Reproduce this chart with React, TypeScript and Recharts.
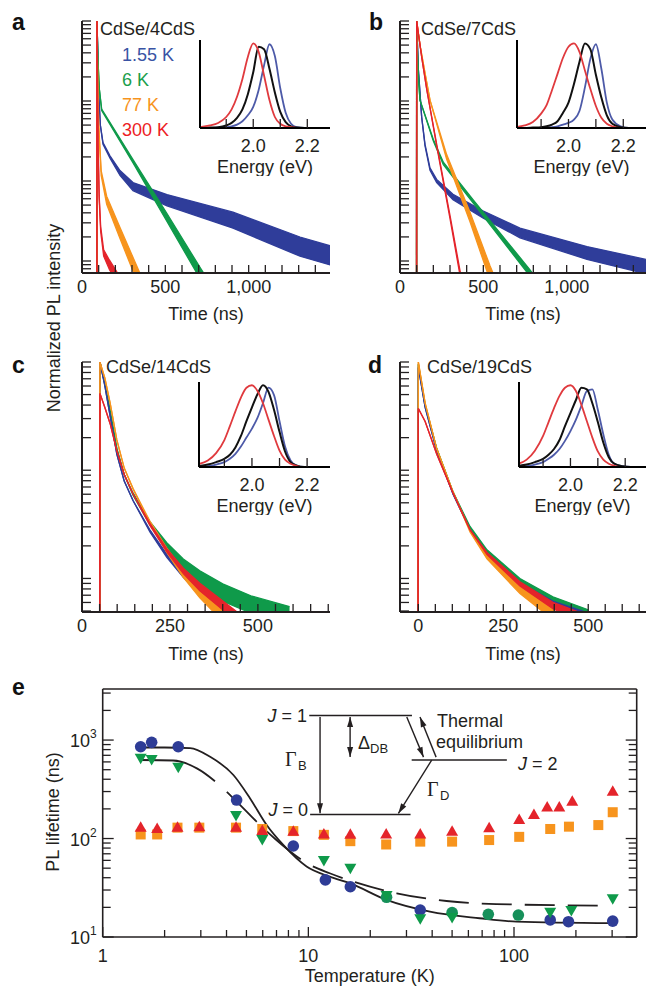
import React from 'react'
import { ComposedChart, Line, Area, Scatter, XAxis, YAxis, ReferenceLine } from 'recharts'

const FONT = '"Liberation Sans", Arial, Helvetica, sans-serif'
const SERIF = '"Liberation Serif", "DejaVu Serif", serif'
const INK = '#231f20'
const BLUE = '#2f3d9a'
const GREEN = '#0f9a4a'
const ORANGE = '#f7941d'
const RED = '#e4242b'

// decay traces: [time (ns), log10 normalized intensity, noise half-width (decades)]
const aBlue = [[89, -5, 0], [90, 0, 0], [100, -0.9, 0], [110, -1.3, 0], [126, -1.53, 0.01], [168, -1.7, 0.015], [228, -1.9, 0.03], [306, -2.07, 0.05], [510, -2.24, 0.07], [906, -2.49, 0.1], [1308, -2.82, 0.12], [1490, -2.93, 0.12]]
const aGreen = [[89, -5, 0], [90, 0, 0], [96, -0.5, 0], [104, -0.85, 0], [118, -1.11, 0.01], [308, -1.76, 0.02], [508, -2.45, 0.05], [708, -3.15, 0.07], [760, -3.33, 0.08]]
const aOrange = [[89, -5, 0], [90, 0, 0], [94, -0.7, 0], [100, -1.3, 0.01], [115, -1.9, 0.03], [148, -2.24, 0.05], [228, -2.65, 0.07], [328, -3.15, 0.09], [370, -3.35, 0.09]]
const aRed = [[89, -5, 0], [90, 0, 0], [93, -0.9, 0], [97, -1.6, 0.01], [103, -2.2, 0.02], [112, -2.6, 0.03], [130, -2.9, 0.04], [165, -3.05, 0.06], [210, -3.2, 0.06]]

const bBlue = [[99, -5, 0], [100, 0, 0], [110, -0.6, 0], [130, -1.2, 0], [150, -1.55, 0.01], [180, -1.85, 0.015], [220, -2.0, 0.02], [318, -2.2, 0.035], [500, -2.42, 0.045], [720, -2.65, 0.06], [1122, -2.9, 0.08], [1476, -3.07, 0.09]]
const bGreen = [[99, -5, 0], [100, 0, 0], [105, -0.4, 0], [112, -0.75, 0], [120, -0.99, 0], [200, -1.49, 0.01], [260, -1.78, 0.015], [437, -2.25, 0.02], [780, -3.15, 0.04], [830, -3.3, 0.04]]
const bOrange = [[99, -5, 0], [100, 0, 0], [120, -0.3, 0], [150, -0.65, 0], [180, -0.99, 0], [280, -1.7, 0.03], [420, -2.45, 0.06], [540, -3.15, 0.09], [580, -3.35, 0.09]]
const bRed = [[99, -5, 0], [100, 0, 0], [130, -0.45, 0], [160, -0.85, 0], [220, -1.55, 0.01], [300, -2.45, 0.02], [360, -3.15, 0.03], [380, -3.35, 0.03]]

const cGreen = [[50, -5, 0], [51, 0, 0], [65, -0.2, 0], [80, -0.45, 0], [99, -0.8, 0], [120, -1.04, 0], [145, -1.22, 0.01], [193, -1.49, 0.015], [241, -1.7, 0.03], [288, -1.87, 0.05], [335, -2.0, 0.07], [400, -2.13, 0.08], [480, -2.24, 0.08], [590, -2.34, 0.08]]
const cBlue = [[50, -5, 0], [51, 0, 0], [65, -0.22, 0], [80, -0.5, 0], [99, -0.85, 0], [120, -1.1, 0], [145, -1.28, 0], [193, -1.56, 0.01], [241, -1.79, 0.015], [288, -1.97, 0.02], [335, -2.12, 0.03], [424, -2.36, 0.04]]
const cOrange = [[50, -5, 0], [51, 0, 0], [65, -0.15, 0], [80, -0.38, 0], [99, -0.72, 0], [120, -0.98, 0], [145, -1.17, 0], [193, -1.48, 0.01], [241, -1.74, 0.02], [288, -1.96, 0.03], [335, -2.13, 0.05], [392, -2.31, 0.06], [420, -2.4, 0.06]]
const cRed = [[50, -5, 0], [51, -0.29, 0], [65, -0.42, 0], [80, -0.57, 0], [99, -0.82, 0], [120, -1.04, 0], [145, -1.22, 0], [193, -1.5, 0.01], [241, -1.74, 0.015], [288, -1.93, 0.025], [335, -2.08, 0.035], [443, -2.36, 0.045]]

const dGreen = [[-2, -5, 0], [0, -0.02, 0], [20, -0.4, 0], [54, -0.8, 0], [102, -1.2, 0], [152, -1.53, 0.01], [202, -1.75, 0.015], [299, -2.03, 0.03], [396, -2.21, 0.04], [500, -2.34, 0.05]]
const dBlue = [[-2, -5, 0], [0, -0.05, 0], [20, -0.42, 0], [54, -0.82, 0], [102, -1.22, 0], [152, -1.55, 0], [202, -1.78, 0.01], [299, -2.06, 0.02], [396, -2.24, 0.03], [510, -2.36, 0.03]]
const dOrange = [[-2, -5, 0], [0, 0, 0], [20, -0.38, 0], [54, -0.8, 0], [102, -1.2, 0], [152, -1.56, 0.01], [202, -1.8, 0.02], [299, -2.1, 0.04], [400, -2.33, 0.06]]
const dRed = [[-2, -5, 0], [0, -0.43, 0], [20, -0.55, 0], [54, -0.85, 0], [102, -1.21, 0], [152, -1.55, 0], [202, -1.77, 0.01], [299, -2.05, 0.02], [396, -2.25, 0.03], [480, -2.36, 0.04]]

const ticksAB = [0, 100, 200, 300, 400, 500, 600, 700, 800, 900, 1000, 1100, 1200, 1300, 1400]
const ticksC = [0, 50, 100, 150, 200, 250, 300, 350, 400, 450, 500, 550, 600, 650, 700]
const ticksD = [0, 50, 100, 150, 200, 250, 300, 350, 400, 450, 500, 550, 600, 650]
const labelsAB: Record<string, string> = { '0': '0', '500': '500', '1000': '1,000' }
const labelsCD: Record<string, string> = { '0': '0', '250': '250', '500': '500' }

// PL spectra (insets), normalized
const energy = [1.8, 1.84, 1.87, 1.9, 1.92, 1.94, 1.96, 1.98, 2.0, 2.02, 2.04, 2.06, 2.08, 2.1, 2.12, 2.14, 2.16, 2.19, 2.22, 2.29]
const specARed = [0.01, 0.03, 0.06, 0.13, 0.22, 0.37, 0.58, 0.84, 1.0, 0.9, 0.62, 0.33, 0.13, 0.05, 0.02, 0.01, 0, 0, 0, 0]
const specABlack = [0, 0.005, 0.01, 0.03, 0.06, 0.12, 0.22, 0.4, 0.66, 0.96, 0.93, 0.7, 0.42, 0.19, 0.07, 0.02, 0.005, 0, 0, 0]
const specABlue = [0, 0, 0.005, 0.01, 0.02, 0.04, 0.08, 0.15, 0.25, 0.45, 0.74, 0.99, 0.85, 0.47, 0.18, 0.05, 0.01, 0, 0, 0]
const specBRed = [0.01, 0.03, 0.07, 0.17, 0.27, 0.45, 0.64, 0.83, 0.96, 1.0, 0.9, 0.68, 0.46, 0.26, 0.12, 0.05, 0.02, 0, 0, 0]
const specBBlack = [0, 0, 0.005, 0.01, 0.02, 0.04, 0.08, 0.18, 0.3, 0.52, 0.78, 1.0, 0.93, 0.63, 0.36, 0.15, 0.05, 0.01, 0, 0]
const specBBlue = [0, 0, 0, 0, 0.005, 0.01, 0.02, 0.04, 0.06, 0.1, 0.2, 0.48, 0.82, 0.99, 0.7, 0.3, 0.1, 0.02, 0, 0]
const specCRed = [0.03, 0.08, 0.17, 0.33, 0.5, 0.68, 0.85, 0.97, 1.0, 0.93, 0.78, 0.58, 0.38, 0.2, 0.09, 0.04, 0.015, 0, 0, 0]
const specCBlack = [0.01, 0.03, 0.06, 0.1, 0.15, 0.24, 0.38, 0.56, 0.73, 0.89, 1.0, 0.92, 0.7, 0.43, 0.19, 0.06, 0.02, 0, 0, 0]
const specCBlue = [0, 0.01, 0.03, 0.06, 0.1, 0.16, 0.25, 0.36, 0.47, 0.6, 0.78, 0.97, 0.88, 0.56, 0.25, 0.08, 0.02, 0, 0, 0]
const specDRed = [0.03, 0.09, 0.2, 0.38, 0.55, 0.72, 0.87, 0.97, 1.0, 0.93, 0.76, 0.56, 0.36, 0.19, 0.09, 0.04, 0.015, 0, 0, 0]
const specDBlack = [0.01, 0.03, 0.06, 0.1, 0.15, 0.22, 0.33, 0.5, 0.66, 0.82, 0.97, 0.95, 0.78, 0.55, 0.3, 0.12, 0.04, 0.01, 0, 0]
const specDBlue = [0, 0.01, 0.03, 0.06, 0.1, 0.15, 0.22, 0.32, 0.44, 0.58, 0.75, 0.93, 0.95, 0.7, 0.4, 0.15, 0.04, 0.01, 0, 0]

// panel e: [temperature (K), PL lifetime (ns)]
const blueCircles = [[1.53, 855], [1.73, 948], [2.33, 855], [4.48, 246], [8.45, 84], [12.1, 38], [16, 32.4], [35, 18.8], [150, 14.9], [184, 14.3], [302, 14.5]]
const greenCircles = [[24, 25.3], [50, 17.7], [75, 17], [105, 16.7]]
const greenTriangles = [[1.53, 661], [1.73, 641], [2.33, 535], [4.45, 173], [5.97, 99], [11.9, 60.5], [16, 50.6], [24, 26.7], [35, 15.5], [50, 16], [150, 18.1], [190, 18.8], [302, 24.7]]
const redTriangles = [[1.53, 129], [1.84, 125], [2.31, 129], [2.95, 130], [4.45, 129], [5.97, 119], [8.45, 117], [11.9, 110], [16, 109], [23.9, 110], [35, 110], [50, 117], [75.7, 127], [106, 154], [125, 173], [145, 206], [166, 206], [192, 237], [302, 299]]
const orangeSquares = [[1.53, 110], [1.84, 110], [2.31, 129], [2.95, 129], [4.45, 129], [5.97, 125], [8.45, 119], [11.9, 109], [16, 94], [23.9, 87], [35, 93], [50, 93], [75.7, 96.5], [106, 104], [150, 125], [185, 132], [257, 137], [302, 185]]
const solidFit = [[1.55, 840], [2.0, 840], [2.66, 830], [3.33, 676], [4.32, 442], [5.2, 257], [6.27, 137], [7.55, 86], [9.8, 52], [12.7, 41], [16, 35], [24, 23.8], [39, 18.1], [68, 15.5], [103, 14.3], [302, 13.8]]
const dashedFit = [[1.53, 627], [2.2, 620], [2.87, 516], [3.65, 357], [4.32, 256], [6.05, 127], [6.9, 99], [10.2, 53.8], [12.7, 44.4], [16.6, 36.4], [26.9, 27.8], [47, 23.2], [82, 21.6], [292, 20.8]]
const eXTicks = [1, 2, 3, 4, 5, 6, 7, 8, 9, 10, 20, 30, 40, 50, 60, 70, 80, 90, 100, 200, 300]
const eYTicks = [10, 20, 30, 40, 50, 60, 70, 80, 90, 100, 200, 300, 400, 500, 600, 700, 800, 900, 1000, 2000, 3000]
const eXLabels: Record<string, string> = { '1': '1', '10': '10', '100': '100' }
const eYExp: Record<string, string> = { '10': '1', '100': '2', '1000': '3' }

// level scheme drawn in data coordinates of panel e
const levelLines = [
  [{ x: 10.1, y: 1775 }, { x: 31.9, y: 1775 }],
  [{ x: 10.2, y: 175 }, { x: 31.4, y: 175 }],
  [{ x: 31.8, y: 627 }, { x: 92.3, y: 627 }],
]
const arrows = [
  { seg: [{ x: 11.4, y: 1714 }, { x: 11.4, y: 181 }], both: false },
  { seg: [{ x: 15.96, y: 1714 }, { x: 15.96, y: 671 }], both: true },
  { seg: [{ x: 30.1, y: 1714 }, { x: 36.3, y: 671 }], both: false },
  { seg: [{ x: 41.8, y: 671 }, { x: 34.9, y: 1714 }], both: false },
  { seg: [{ x: 39.8, y: 627 }, { x: 27.4, y: 180 }], both: false },
]

const band = (tr: number[][]) => tr.map(([t, c, w]) => ({ t, band: [c - w, c + w] }))
const pts = (arr: number[][]) => arr.map(([T, tau]) => ({ T, tau }))
const spec = (r: number[], k: number[], b: number[]) => energy.map((E, i) => ({ E, r: r[i], k: k[i], b: b[i] }))

function decadeTicks(lo: number, hi: number) {
  const out: number[] = []
  for (let k = Math.floor(lo); k <= Math.ceil(hi); k++) {
    for (let m = 1; m <= 9; m++) {
      const v = k + Math.log10(m)
      if (v >= lo - 1e-9 && v <= hi + 1e-9) out.push(+v.toFixed(4))
    }
  }
  return out
}

function tickMark(dir: string, len: number, labels?: Record<string, string>, labelDy = 20, majors?: number[]) {
  return (p: any) => {
    const { x, y, payload } = p
    const v = payload.value
    const L = majors && majors.includes(v) ? len + 3 : len
    const dx = dir === 'left' ? -L : dir === 'right' ? L : 0
    const dy = dir === 'up' ? -L : dir === 'down' ? L : 0
    const lab = labels ? labels[String(v)] : undefined
    return (
      <g>
        <line x1={x} y1={y} x2={x + dx} y2={y + dy} stroke={INK} strokeWidth={1.3} />
        {lab !== undefined && (
          <text x={x} y={y + labelDy} textAnchor="middle" fontSize={18} fill={INK}>
            {lab}
          </text>
        )}
      </g>
    )
  }
}

function eLeftTick(p: any) {
  const { x, y, payload } = p
  const exp = eYExp[String(payload.value)]
  return (
    <g>
      <line x1={x} y1={y} x2={x + (exp ? 11 : 8)} y2={y} stroke={INK} strokeWidth={1.3} />
      {exp && (
        <text x={x - 6} y={y + 7} textAnchor="end" fontSize={18} fill={INK}>
          10<tspan dy={-9} fontSize={12}>{exp}</tspan>
        </text>
      )}
    </g>
  )
}

function arrowShape(both: boolean) {
  return (p: any) => {
    const { x1, y1, x2, y2 } = p
    const a = Math.atan2(y2 - y1, x2 - x1)
    const head = (x: number, y: number, ang: number) => {
      const bx = x - 10 * Math.cos(ang)
      const by = y - 10 * Math.sin(ang)
      const s = Math.sin(ang) * 3
      const c = Math.cos(ang) * 3
      return `${x},${y} ${bx - s},${by + c} ${bx + s},${by - c}`
    }
    return (
      <g>
        <line x1={x1} y1={y1} x2={x2} y2={y2} stroke={INK} strokeWidth={1.4} />
        <polygon points={head(x2, y2, a)} fill={INK} />
        {both && <polygon points={head(x1, y1, a + Math.PI)} fill={INK} />}
      </g>
    )
  }
}

const axisLine = { stroke: INK, strokeWidth: 2 }

function DecayPanel(props: any) {
  const { left, top, width, yw, mr, mt, xh, xDomain, xTicks, labels, yDomain, series } = props
  return (
    <div style={{ position: 'absolute', left, top }}>
      <ComposedChart width={width} height={330} margin={{ top: mt, right: mr, bottom: 0, left: 0 }}>
        <XAxis
          dataKey="t"
          type="number"
          domain={xDomain}
          allowDataOverflow
          ticks={xTicks}
          interval={0}
          height={xh}
          tickSize={0}
          tickMargin={0}
          tickLine={false}
          axisLine={axisLine}
          tick={tickMark('up', 8, labels, 20)}
          label={{ value: 'Time (ns)', position: 'insideBottom', offset: 10, fill: INK, fontSize: 18 }}
        />
        <YAxis
          type="number"
          domain={yDomain}
          allowDataOverflow
          ticks={decadeTicks(yDomain[0], yDomain[1])}
          interval={0}
          width={yw}
          tickSize={0}
          tickMargin={0}
          tickLine={false}
          axisLine={axisLine}
          tick={tickMark('right', 9)}
        />
        {series.map((s: any, i: number) => (
          <Area
            key={i}
            data={band(s.data)}
            dataKey="band"
            type="linear"
            stroke={s.color}
            strokeWidth={1.3}
            fill={s.color}
            fillOpacity={1}
            dot={false}
            activeDot={false}
            isAnimationActive={false}
          />
        ))}
      </ComposedChart>
    </div>
  )
}

function Inset(props: any) {
  const { left, top, width, plotH, mr, domain, data } = props
  return (
    <div style={{ position: 'absolute', left, top }}>
      <ComposedChart width={width} height={10 + plotH + 48} data={data} margin={{ top: 10, right: mr, bottom: 0, left: 19 }}>
        <XAxis
          dataKey="E"
          type="number"
          domain={domain}
          allowDataOverflow
          ticks={[1.9, 2.0, 2.1, 2.2]}
          interval={0}
          height={48}
          tickSize={0}
          tickMargin={0}
          tickLine={false}
          axisLine={{ stroke: '#000', strokeWidth: 2 }}
          tick={tickMark('up', 9, { '2': '2.0', '2.2': '2.2' }, 24)}
          label={{ value: 'Energy (eV)', position: 'insideBottom', offset: 3, fill: INK, fontSize: 18 }}
        />
        <YAxis type="number" domain={[0, 1.04]} allowDataOverflow width={1} tick={false} tickLine={false} axisLine={{ stroke: '#000', strokeWidth: 2 }} />
        <Line dataKey="b" type="monotone" stroke="#4d5aa8" strokeWidth={1.8} dot={false} activeDot={false} isAnimationActive={false} />
        <Line dataKey="k" type="monotone" stroke="#111111" strokeWidth={2} dot={false} activeDot={false} isAnimationActive={false} />
        <Line dataKey="r" type="monotone" stroke="#e03a3e" strokeWidth={1.8} dot={false} activeDot={false} isAnimationActive={false} />
      </ComposedChart>
    </div>
  )
}

const circle = (fill: string) => (p: any) => <circle cx={p.cx} cy={p.cy} r={5.8} fill={fill} />
const triUp = (fill: string) => (p: any) => (
  <polygon points={`${p.cx},${p.cy - 6.5} ${p.cx + 6},${p.cy + 4} ${p.cx - 6},${p.cy + 4}`} fill={fill} />
)
const triDown = (fill: string) => (p: any) => (
  <polygon points={`${p.cx},${p.cy + 6.5} ${p.cx + 6},${p.cy - 4} ${p.cx - 6},${p.cy - 4}`} fill={fill} />
)
const square = (fill: string) => (p: any) => <rect x={p.cx - 5} y={p.cy - 5} width={10} height={10} fill={fill} />

function LifetimePanel() {
  const logX = { type: 'number' as const, scale: 'log' as const, domain: [1, 395], allowDataOverflow: true, ticks: eXTicks, interval: 0, tickSize: 0, tickMargin: 0, tickLine: false, axisLine: { stroke: INK, strokeWidth: 1.6 } }
  const logY = { type: 'number' as const, scale: 'log' as const, domain: [10, 3300], allowDataOverflow: true, ticks: eYTicks, interval: 0, tickSize: 0, tickMargin: 0, tickLine: false, axisLine: { stroke: INK, strokeWidth: 1.6 } }
  return (
    <div style={{ position: 'absolute', left: 0, top: 680 }}>
      <ComposedChart width={646} height={311} margin={{ top: 0, right: 0, bottom: 0, left: 0 }}>
        <XAxis
          {...logX}
          dataKey="T"
          height={54}
          tick={tickMark('up', 7, eXLabels, 25, [1, 10, 100])}
          label={{ value: 'Temperature (K)', position: 'insideBottom', offset: 9, fill: INK, fontSize: 18 }}
        />
        <XAxis {...logX} xAxisId="top" orientation="top" height={9} tick={tickMark('down', 7, undefined, 0, [1, 10, 100])} />
        <YAxis {...logY} dataKey="tau" width={102.7} tick={eLeftTick} />
        <YAxis {...logY} yAxisId="right" orientation="right" width={9.3} tick={tickMark('left', 8, undefined, 0, [10, 100, 1000])} />
        {levelLines.map((seg, i) => (
          <ReferenceLine key={'l' + i} segment={seg} stroke={INK} strokeWidth={1.5} ifOverflow="visible" />
        ))}
        {arrows.map((a, i) => (
          <ReferenceLine key={'a' + i} segment={a.seg} stroke={INK} ifOverflow="visible" shape={arrowShape(a.both)} />
        ))}
        <Scatter data={pts(orangeSquares)} shape={square(ORANGE)} isAnimationActive={false} />
        <Scatter data={pts(redTriangles)} shape={triUp(RED)} isAnimationActive={false} />
        <Scatter data={pts(blueCircles)} shape={circle('#2e3c96')} isAnimationActive={false} />
        <Scatter data={pts(greenCircles)} shape={circle('#16905a')} isAnimationActive={false} />
        <Scatter data={pts(greenTriangles)} shape={triDown(GREEN)} isAnimationActive={false} />
        <Line data={pts(solidFit)} dataKey="tau" type="monotone" stroke={INK} strokeWidth={1.8} dot={false} activeDot={false} isAnimationActive={false} />
        <Line
          data={pts(dashedFit)}
          dataKey="tau"
          type="monotone"
          stroke={INK}
          strokeWidth={1.8}
          strokeDasharray="80 16 42 14 44 14 32 13 30 13 30 13 30 13 30 13 30 13 30 13 30 13"
          dot={false}
          activeDot={false}
          isAnimationActive={false}
        />
      </ComposedChart>
    </div>
  )
}

export default function App() {
  const txt = { fontSize: 18, fill: INK }
  return (
    <div style={{ position: 'absolute', left: 0, top: 0, width: 646, height: 991, background: '#fff', fontFamily: FONT, overflow: 'hidden' }}>
      <DecayPanel left={0} top={0} width={340} yw={82} mr={10} mt={21} xh={57} xDomain={[0, 1488]} xTicks={ticksAB} labels={labelsAB} yDomain={[-3.15, 0]}
        series={[{ data: aBlue, color: BLUE }, { data: aGreen, color: GREEN }, { data: aOrange, color: ORANGE }, { data: aRed, color: RED }]} />
      <DecayPanel left={320} top={0} width={326} yw={80} mr={0} mt={21} xh={57} xDomain={[0, 1476]} xTicks={ticksAB} labels={labelsAB} yDomain={[-3.15, 0]}
        series={[{ data: bBlue, color: BLUE }, { data: bGreen, color: GREEN }, { data: bOrange, color: ORANGE }, { data: bRed, color: RED }]} />
      <DecayPanel left={0} top={340} width={340} yw={82} mr={10} mt={22} xh={58} xDomain={[0, 705]} xTicks={ticksC} labels={labelsCD} yDomain={[-2.31, 0]}
        series={[{ data: cGreen, color: GREEN }, { data: cBlue, color: BLUE }, { data: cOrange, color: ORANGE }, { data: cRed, color: RED }]} />
      <DecayPanel left={320} top={340} width={326} yw={80} mr={0} mt={22} xh={58} xDomain={[-54, 670]} xTicks={ticksD} labels={labelsCD} yDomain={[-2.31, 0]}
        series={[{ data: dGreen, color: GREEN }, { data: dBlue, color: BLUE }, { data: dOrange, color: ORANGE }, { data: dRed, color: RED }]} />

      <Inset left={180} top={30} width={160} plotH={88} mr={10} domain={[1.803, 2.284]} data={spec(specARed, specABlack, specABlue)} />
      <Inset left={497} top={30} width={149} plotH={88} mr={0} domain={[1.812, 2.283]} data={spec(specBRed, specBBlack, specBBlue)} />
      <Inset left={179} top={372} width={161} plotH={85} mr={10} domain={[1.808, 2.283]} data={spec(specCRed, specCBlack, specCBlue)} />
      <Inset left={499} top={372} width={147} plotH={85} mr={0} domain={[1.812, 2.276]} data={spec(specDRed, specDBlack, specDBlue)} />

      <LifetimePanel />

      <svg width={646} height={991} style={{ position: 'absolute', left: 0, top: 0, pointerEvents: 'none' }}>
        <g fontWeight="bold" fontSize={23} fill="#111">
          <text x={12} y={30}>a</text>
          <text x={369} y={30}>b</text>
          <text x={12} y={373}>c</text>
          <text x={368} y={373}>d</text>
          <text x={12} y={695}>e</text>
        </g>
        <text x={100} y={35} {...txt}>CdSe/4CdS</text>
        <text x={421} y={35} {...txt}>CdSe/7CdS</text>
        <text x={106} y={373} {...txt}>CdSe/14CdS</text>
        <text x={427} y={373} {...txt}>CdSe/19CdS</text>
        <text x={122} y={61} fontSize={18} fill="#3953a4">1.55 K</text>
        <text x={122} y={86} fontSize={18} fill="#1b9e4b">6 K</text>
        <text x={122} y={111} fontSize={18} fill={ORANGE}>77 K</text>
        <text x={122} y={136} fontSize={18} fill="#ed1c24">300 K</text>
        <text transform="translate(60,318) rotate(-90)" textAnchor="middle" {...txt}>Normalized PL intensity</text>
        <text transform="translate(59,812) rotate(-90)" textAnchor="middle" {...txt}>PL lifetime (ns)</text>

        <text x={307} y={722} textAnchor="end" {...txt}><tspan fontStyle="italic">J</tspan> = 1</text>
        <text x={308} y={816} textAnchor="end" {...txt}><tspan fontStyle="italic">J</tspan> = 0</text>
        <text x={518} y={770} {...txt}><tspan fontStyle="italic">J</tspan> = 2</text>
        <text x={285} y={766} fontSize={20} fill={INK} fontFamily={SERIF}>Γ</text>
        <text x={298} y={770} fontSize={13} fill={INK}>B</text>
        <text x={427} y={796} fontSize={20} fill={INK} fontFamily={SERIF}>Γ</text>
        <text x={440} y={800} fontSize={13} fill={INK}>D</text>
        <text x={358} y={749} {...txt}>Δ</text>
        <text x={370} y={753} fontSize={13} fill={INK}>DB</text>
        <text x={437} y={727} {...txt}>Thermal</text>
        <text x={436} y={748} {...txt}>equilibrium</text>
      </svg>
    </div>
  )
}
